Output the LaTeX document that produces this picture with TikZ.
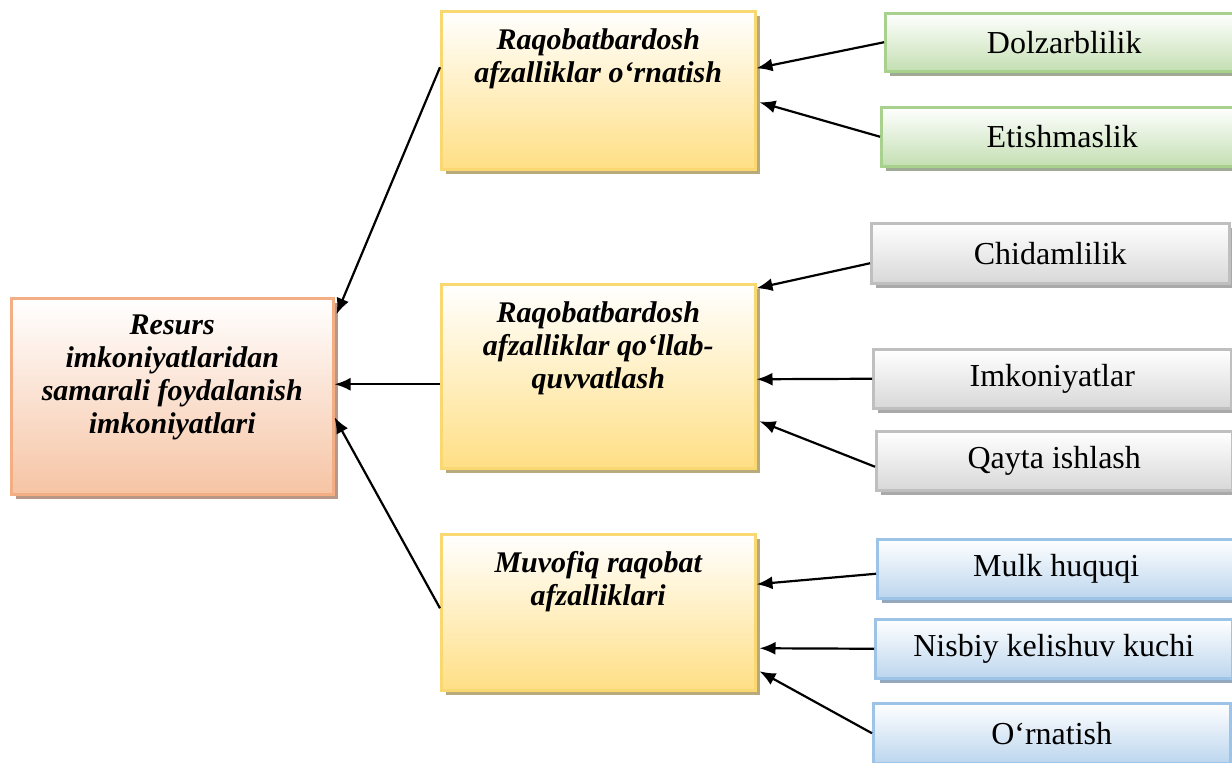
\documentclass[tikz,border=0pt]{standalone}
\usepackage{fontspec}
\setmainfont{Liberation Serif}
\usetikzlibrary{shadows,arrows.meta}

\definecolor{yelfill}{HTML}{FFDF85}
\definecolor{yeledge}{HTML}{F9D871}
\definecolor{yelshadow}{HTML}{B9AA7C}
\definecolor{salfill}{HTML}{F6C4A4}
\definecolor{saledge}{HTML}{F3AE84}
\definecolor{salshadow}{HTML}{B99886}
\definecolor{grnfill}{HTML}{C4DFB2}
\definecolor{grnedge}{HTML}{A9D18E}
\definecolor{grnshadow}{HTML}{9EAA94}
\definecolor{gryfill}{HTML}{D8D8D8}
\definecolor{gryedge}{HTML}{BFBFBF}
\definecolor{gryshadow}{HTML}{A9A9A9}
\definecolor{blufill}{HTML}{BCD6EE}
\definecolor{bluedge}{HTML}{9DC3E6}
\definecolor{blushadow}{HTML}{93A8BE}

\tikzset{
  card/.style n args={3}{draw=#2, line width=2.5pt, top color=white, bottom color=#1,
    general shadow={fill=#3, shadow xshift=5pt, shadow yshift=-5pt},
    anchor=north west, inner sep=0pt},
  yelbox/.style={card={yelfill}{yeledge}{yelshadow}},
  salbox/.style={card={salfill}{saledge}{salshadow}},
  grnbox/.style={card={grnfill}{grnedge}{grnshadow}},
  grybox/.style={card={gryfill}{gryedge}{gryshadow}},
  blubox/.style={card={blufill}{bluedge}{blushadow}},
  heading/.style={anchor=north, align=center, inner sep=0pt,
    font=\fontsize{30}{33}\selectfont\bfseries\itshape},
  leaf/.style={font=\fontsize{32}{35}\selectfont},
  link/.style={line width=2.2pt, -{Latex[length=16pt,width=13pt]}},
}

\begin{document}
\begin{tikzpicture}[x=1pt,y=1pt]
\useasboundingbox (0,0) rectangle (1232,-763);
\clip (0,0) rectangle (1232,-763);

% central box
\node[salbox, minimum width=322pt, minimum height=196pt] (L) at (10,-297) {};
\node[heading] (Lt) at ([yshift=-18pt]L.north)
  {Resurs\\imkoniyatlaridan\\samarali foydalanish\\imkoniyatlari};

% middle column
\node[yelbox, minimum width=314pt, minimum height=158pt] (m1) at (440,-10) {};
\node[heading] (m1t) at ([yshift=-18pt]m1.north)
  {Raqobatbardosh\\afzalliklar o‘rnatish};
\node[yelbox, minimum width=314pt, minimum height=184pt] (m2) at (440,-283) {};
\node[heading] (m2t) at ([yshift=-18pt]m2.north)
  {Raqobatbardosh\\afzalliklar qo‘llab-\\quvvatlash};
\node[yelbox, minimum width=314pt, minimum height=156pt] (m3) at (440,-533) {};
\node[heading] (m3t) at ([yshift=-18pt]m3.north)
  {Muvofiq raqobat\\afzalliklari};

% right column
\node[grnbox, leaf, minimum width=358pt, minimum height=58pt] (r1) at (884,-12) {Dolzarblilik};
\node[grnbox, leaf, minimum width=362pt, minimum height=59pt] (r2) at (880,-106) {Etishmaslik};
\node[grybox, leaf, minimum width=358pt, minimum height=60pt] (r3) at (870,-222) {Chidamlilik};
\node[grybox, leaf, minimum width=358pt, minimum height=59pt] (r4) at (872,-348) {Imkoniyatlar};
\node[grybox, leaf, minimum width=356pt, minimum height=59pt] (r5) at (875,-430) {Qayta ishlash};
\node[blubox, leaf, minimum width=358pt, minimum height=59pt] (r6) at (876,-538) {Mulk huquqi};
\node[blubox, leaf, minimum width=357pt, minimum height=59pt] (r7) at (874,-618) {Nisbiy kelishuv kuchi};
\node[blubox, leaf, minimum width=357pt, minimum height=60pt] (r8) at (872,-702) {O‘rnatish};

% connectors into the central box
\draw[link] ([yshift=23pt]m1.west) -- ([yshift=82pt,xshift=2pt]L.east);
\draw[link] ([yshift=-8pt]m2.west) -- ([yshift=12pt]L.east);
\draw[link] ([yshift=4pt]m3.west) -- ([yshift=-21pt]L.east);

% connectors into the middle column
\draw[link] (r1.west) -- ([yshift=22pt]m1.east);
\draw[link] (r2.west) -- ([yshift=-12pt,xshift=3pt]m1.east);
\draw[link] ([yshift=-10pt]r3.west) -- ([yshift=88pt]m2.east);
\draw[link] (r4.west) -- ([yshift=-3pt]m2.east);
\draw[link] ([yshift=-6pt]r5.west) -- ([yshift=-45pt,xshift=3pt]m2.east);
\draw[link] ([yshift=-5pt]r6.west) -- ([yshift=28pt]m3.east);
\draw[link] (r7.west) -- ([yshift=-36pt,xshift=3pt]m3.east);
\draw[link] (r8.west) -- ([yshift=-59pt,xshift=3pt]m3.east);
\end{tikzpicture}
\end{document}
